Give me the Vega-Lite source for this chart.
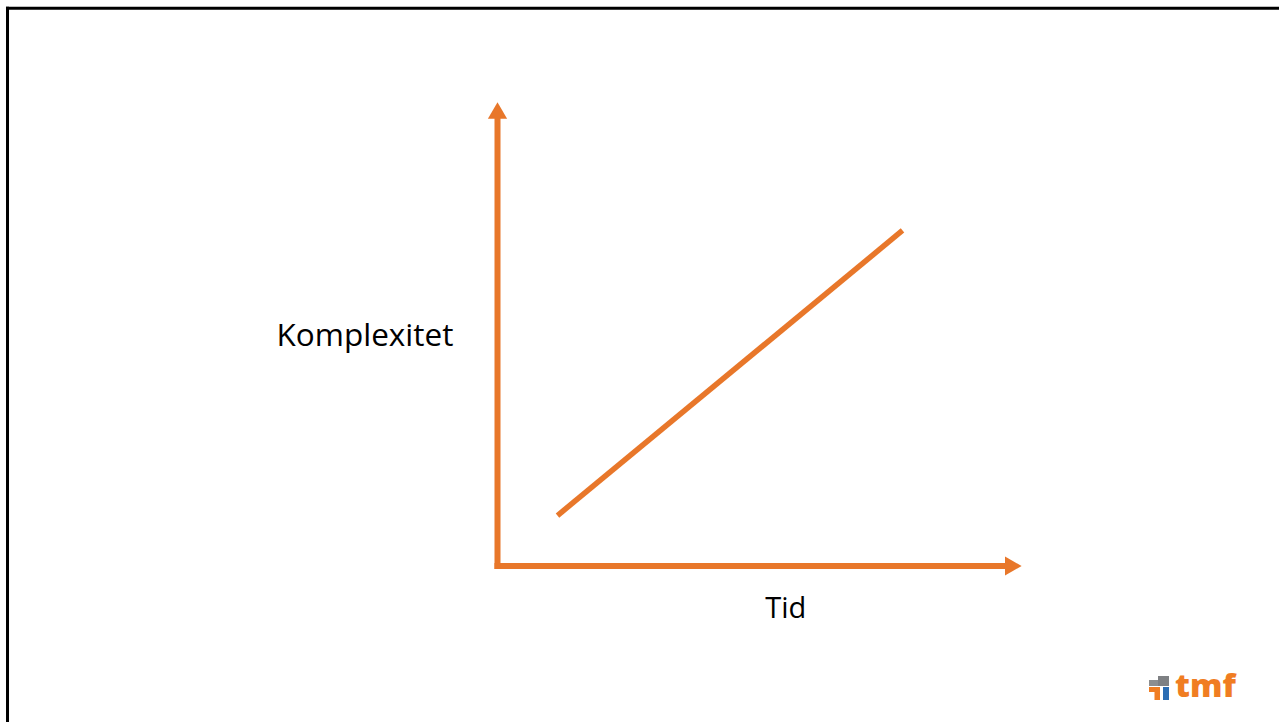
{
  "$schema": "https://vega.github.io/schema/vega-lite/v6.json",
  "width": 1279,
  "height": 722,
  "padding": 0,
  "autosize": {"type": "none"},
  "background": "white",
  "config": {"view": {"stroke": null}},
  "datasets": {
    "frame": [
      {"x": -93.80, "y": 120.19, "x2": 149.141, "y2": 120.19},
      {"x": -93.51, "y": 120.51, "x2": -93.51, "y2": -33.621}
    ],
    "axes": [
      {"axel": "Tid", "x": 0, "y": 0, "x2": 97.04, "y2": 0},
      {"axel": "Komplexitet", "x": 0, "y": 0, "x2": 0, "y2": 96.55}
    ],
    "arrowheads": [
      {"axel": "Tid", "x": 98.44, "y": 0, "shape": "triangle-right"},
      {"axel": "Komplexitet", "x": 0, "y": 98.17, "shape": "triangle-up"}
    ],
    "trend": [
      {"tid": 11.45, "komplexitet": 10.88},
      {"tid": 77.29, "komplexitet": 72.31}
    ],
    "labels": [
      {"text": "Komplexitet", "x": -25.29, "y": 47.41},
      {"text": "Tid", "x": 55.0, "y": -11.27}
    ],
    "logo": [
      {"part": "gray-left", "x": 124.33, "x2": 126.1, "y": -24.57, "y2": -25.86},
      {"part": "gray-right", "x": 126.05, "x2": 128.15, "y": -23.71, "y2": -25.86},
      {"part": "orange-h", "x": 124.33, "x2": 126.43, "y": -26.08, "y2": -27.16},
      {"part": "orange-v", "x": 125.38, "x2": 126.43, "y": -26.08, "y2": -28.88},
      {"part": "blue", "x": 127.0, "x2": 128.15, "y": -26.08, "y2": -28.88}
    ],
    "logotext": [
      {"text": "tmf", "x": 129.3, "y": -28.23}
    ]
  },
  "layer": [
    {
      "data": {"name": "frame"},
      "mark": {"type": "rule", "color": "black", "strokeWidth": 3, "strokeCap": "butt"},
      "encoding": {
        "x": {"field": "x", "type": "quantitative", "scale": {"domain": [-94.943, 149.141], "nice": false, "zero": false}, "axis": null},
        "y": {"field": "y", "type": "quantitative", "scale": {"domain": [-33.621, 121.983], "nice": false, "zero": false}, "axis": null},
        "x2": {"field": "x2"},
        "y2": {"field": "y2"}
      }
    },
    {
      "data": {"name": "axes"},
      "mark": {"type": "rule", "color": "#E8772A", "strokeWidth": 6, "strokeCap": "square"},
      "encoding": {
        "x": {"field": "x", "type": "quantitative", "scale": {"domain": [-94.943, 149.141], "nice": false, "zero": false}, "axis": null},
        "y": {"field": "y", "type": "quantitative", "scale": {"domain": [-33.621, 121.983], "nice": false, "zero": false}, "axis": null},
        "x2": {"field": "x2"},
        "y2": {"field": "y2"}
      }
    },
    {
      "data": {"name": "arrowheads"},
      "mark": {"type": "point", "filled": true, "opacity": 1, "color": "#E8772A", "size": 370, "strokeWidth": 0},
      "encoding": {
        "x": {"field": "x", "type": "quantitative", "scale": {"domain": [-94.943, 149.141], "nice": false, "zero": false}, "axis": null},
        "y": {"field": "y", "type": "quantitative", "scale": {"domain": [-33.621, 121.983], "nice": false, "zero": false}, "axis": null},
        "shape": {"field": "shape", "type": "nominal", "scale": null, "legend": null}
      }
    },
    {
      "data": {"name": "trend"},
      "mark": {"type": "line", "color": "#E8772A", "strokeWidth": 5.5, "strokeCap": "butt"},
      "encoding": {
        "x": {"field": "tid", "type": "quantitative", "scale": {"domain": [-94.943, 149.141], "nice": false, "zero": false}, "axis": null},
        "y": {"field": "komplexitet", "type": "quantitative", "scale": {"domain": [-33.621, 121.983], "nice": false, "zero": false}, "axis": null}
      }
    },
    {
      "data": {"name": "labels"},
      "transform": [{"filter": "datum.text === 'Komplexitet'"}],
      "mark": {"type": "text", "font": "Open Sans", "fontSize": 31.5, "color": "black", "align": "center", "baseline": "alphabetic"},
      "encoding": {
        "x": {"field": "x", "type": "quantitative", "scale": {"domain": [-94.943, 149.141], "nice": false, "zero": false}, "axis": null},
        "y": {"field": "y", "type": "quantitative", "scale": {"domain": [-33.621, 121.983], "nice": false, "zero": false}, "axis": null},
        "text": {"field": "text"}
      }
    },
    {
      "data": {"name": "labels"},
      "transform": [{"filter": "datum.text === 'Tid'"}],
      "mark": {"type": "text", "font": "Open Sans", "fontSize": 29, "color": "black", "align": "center", "baseline": "alphabetic"},
      "encoding": {
        "x": {"field": "x", "type": "quantitative", "scale": {"domain": [-94.943, 149.141], "nice": false, "zero": false}, "axis": null},
        "y": {"field": "y", "type": "quantitative", "scale": {"domain": [-33.621, 121.983], "nice": false, "zero": false}, "axis": null},
        "text": {"field": "text"}
      }
    },
    {
      "data": {"name": "logo"},
      "mark": {"type": "rect"},
      "encoding": {
        "x": {"field": "x", "type": "quantitative", "scale": {"domain": [-94.943, 149.141], "nice": false, "zero": false}, "axis": null},
        "y": {"field": "y", "type": "quantitative", "scale": {"domain": [-33.621, 121.983], "nice": false, "zero": false}, "axis": null},
        "x2": {"field": "x2"},
        "y2": {"field": "y2"},
        "color": {"field": "part", "type": "nominal", "legend": null,
          "scale": {"domain": ["gray-left", "gray-right", "orange-h", "orange-v", "blue"],
                    "range": ["#8C8E90", "#7E8083", "#F07D22", "#F07D22", "#2B6DB3"]}}
      }
    },
    {
      "data": {"name": "logotext"},
      "mark": {"type": "text", "font": "Open Sans", "fontWeight": 800, "fontSize": 32.5, "color": "#F07D22", "align": "left", "baseline": "alphabetic"},
      "encoding": {
        "x": {"field": "x", "type": "quantitative", "scale": {"domain": [-94.943, 149.141], "nice": false, "zero": false}, "axis": null},
        "y": {"field": "y", "type": "quantitative", "scale": {"domain": [-33.621, 121.983], "nice": false, "zero": false}, "axis": null},
        "text": {"field": "text"}
      }
    }
  ]
}
